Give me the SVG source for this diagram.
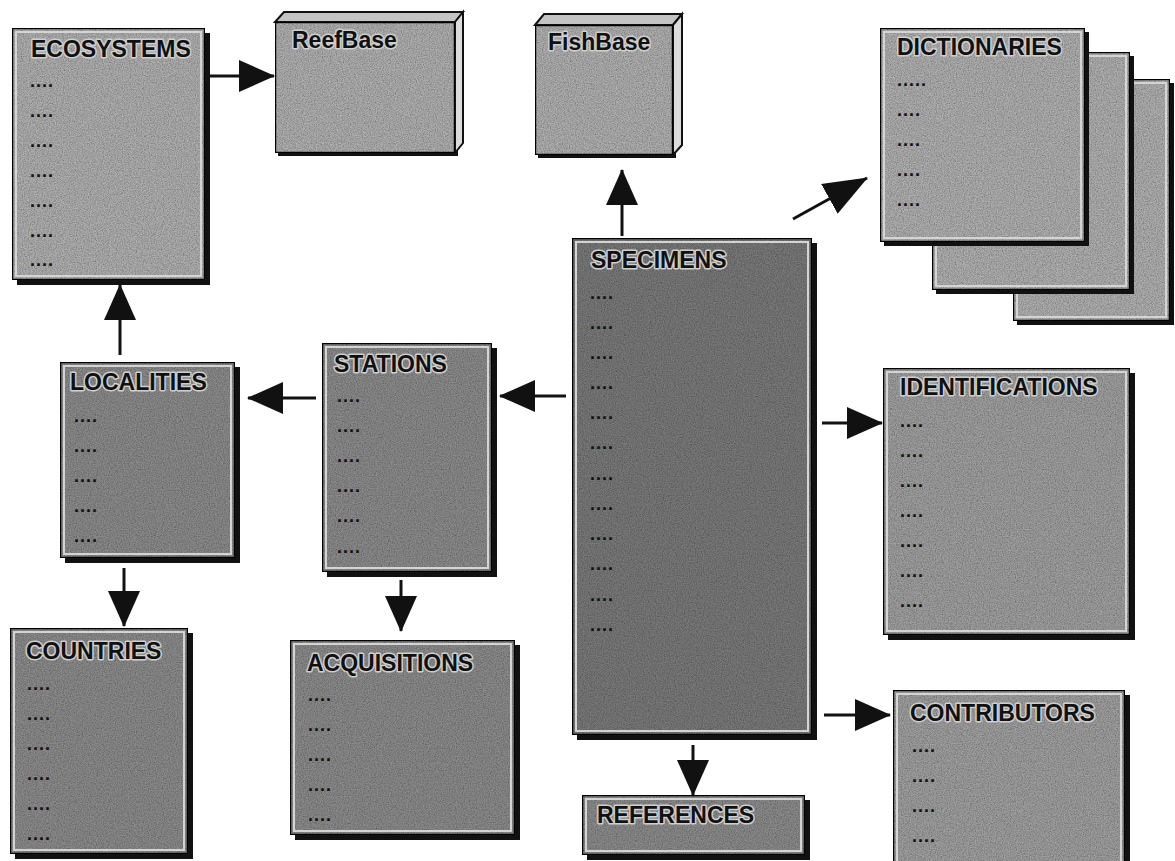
<svg xmlns="http://www.w3.org/2000/svg" width="1175" height="861" viewBox="0 0 1175 861">
<style>
.bg{fill:#ffffff}
.shadow{fill:#111}
.box{stroke:#111;stroke-width:2.5}
.light{fill:#b0b0b0}
.mid{fill:#a0a0a0}
.dark{fill:#8c8c8c}
.darkest{fill:#7a7a7a}
.rim{fill:none;stroke:#d4d4d4;stroke-width:2}
.title{font-family:"Liberation Sans",Arial,sans-serif;font-weight:bold;font-size:23px;fill:#111;stroke:#cfcfcf;stroke-width:3;stroke-linejoin:round;paint-order:stroke}
.dots{font-family:"Liberation Sans",Arial,sans-serif;font-weight:bold;font-size:18px;fill:#111;letter-spacing:1px}
.top{fill:#c4c4c4;stroke:#111;stroke-width:2}
.side{fill:#dcdcdc;stroke:#111;stroke-width:2}
.conn{stroke:#111;stroke-width:3;fill:none}
</style>
<defs>
<filter id="grain" x="0" y="0" width="100%" height="100%">
<feTurbulence type="fractalNoise" baseFrequency="0.85" numOctaves="2" seed="4" result="n"/>
<feColorMatrix in="n" type="matrix" values="0 0 0 0 0  0 0 0 0 0  0 0 0 0 0  1 0 0 0 -0.3" result="d"/>
<feComposite in="d" in2="SourceGraphic" operator="in" result="d2"/>
<feMerge><feMergeNode in="SourceGraphic"/><feMergeNode in="d2"/></feMerge>
</filter>
<marker id="ah" markerUnits="userSpaceOnUse" markerWidth="36" markerHeight="32" refX="35" refY="16" orient="auto">
<path d="M0,0 L36,16 L0,32 Z" fill="#111"/>
</marker>
<marker id="ahl" markerUnits="userSpaceOnUse" markerWidth="44" markerHeight="34" refX="43" refY="17" orient="auto">
<path d="M0,0 L44,17 L0,34 Z" fill="#111"/>
</marker>
</defs>
<rect class="bg" x="0" y="0" width="1175" height="861"/>

<g id="ecosystems">
<rect class="shadow" x="17" y="33" width="193" height="252"/>
<rect class="box light" x="12" y="28" width="193" height="252" filter="url(#grain)"/>
<rect class="rim" x="16" y="32" width="185" height="244"/>
<text class="title" x="31" y="57">ECOSYSTEMS</text>
<text class="dots" x="30" y="87">....</text>
<text class="dots" x="30" y="117">....</text>
<text class="dots" x="30" y="147">....</text>
<text class="dots" x="30" y="177">....</text>
<text class="dots" x="30" y="207">....</text>
<text class="dots" x="30" y="237">....</text>
<text class="dots" x="30" y="266">....</text>
</g>

<g id="reefbase">
<rect class="shadow" x="278" y="25" width="180" height="131"/>
<polygon class="top" points="275,22 284,12 463,12 455,22"/>
<polygon class="side" points="455,22 463,12 463,143 455,153"/>
<rect class="box light" x="275" y="22" width="180" height="131" filter="url(#grain)"/>
<text class="title" x="292" y="48">ReefBase</text>
</g>

<g id="fishbase">
<rect class="shadow" x="538" y="28" width="138" height="130"/>
<polygon class="top" points="535,25 544,14 682,14 673,25"/>
<polygon class="side" points="673,25 682,14 682,145 673,155"/>
<rect class="box light" x="535" y="25" width="138" height="130" filter="url(#grain)"/>
<text class="title" x="548" y="50">FishBase</text>
</g>

<g id="dictionaries">
<rect class="shadow" x="1017" y="83" width="157" height="242"/>
<rect class="box light" x="1013" y="79" width="157" height="242" filter="url(#grain)"/>
<rect class="rim" x="1017" y="83" width="149" height="234"/>
<rect class="shadow" x="936" y="56" width="198" height="238"/>
<rect class="box light" x="932" y="52" width="198" height="238" filter="url(#grain)"/>
<rect class="rim" x="936" y="56" width="190" height="230"/>
<rect class="shadow" x="884" y="32" width="205" height="214"/>
<rect class="box light" x="880" y="28" width="205" height="214" filter="url(#grain)"/>
<rect class="rim" x="884" y="32" width="197" height="206"/>
<text class="title" x="897" y="55">DICTIONARIES</text>
<text class="dots" x="897" y="86">.....</text>
<text class="dots" x="897" y="116">....</text>
<text class="dots" x="897" y="146">....</text>
<text class="dots" x="897" y="176">....</text>
<text class="dots" x="897" y="206">....</text>
</g>

<g id="specimens">
<rect class="shadow" x="577" y="243" width="240" height="497"/>
<rect class="box darkest" x="572" y="238" width="240" height="497" filter="url(#grain)"/>
<rect class="rim" x="576" y="242" width="232" height="489"/>
<text class="title" x="591" y="268">SPECIMENS</text>
<text class="dots" x="590" y="299">....</text>
<text class="dots" x="590" y="329">....</text>
<text class="dots" x="590" y="359">....</text>
<text class="dots" x="590" y="389">....</text>
<text class="dots" x="590" y="419">....</text>
<text class="dots" x="590" y="449">....</text>
<text class="dots" x="590" y="480">....</text>
<text class="dots" x="590" y="510">....</text>
<text class="dots" x="590" y="540">....</text>
<text class="dots" x="590" y="570">....</text>
<text class="dots" x="590" y="601">....</text>
<text class="dots" x="590" y="631">....</text>
</g>

<g id="stations">
<rect class="shadow" x="327" y="348" width="170" height="229"/>
<rect class="box dark" x="322" y="343" width="170" height="229" filter="url(#grain)"/>
<rect class="rim" x="326" y="347" width="162" height="221"/>
<text class="title" x="334" y="372">STATIONS</text>
<text class="dots" x="337" y="402">....</text>
<text class="dots" x="337" y="432">....</text>
<text class="dots" x="337" y="462">....</text>
<text class="dots" x="337" y="492">....</text>
<text class="dots" x="337" y="522">....</text>
<text class="dots" x="337" y="553">....</text>
</g>

<g id="localities">
<rect class="shadow" x="65" y="367" width="175" height="196"/>
<rect class="box dark" x="60" y="362" width="175" height="196" filter="url(#grain)"/>
<rect class="rim" x="64" y="366" width="167" height="188"/>
<text class="title" x="70" y="390">LOCALITIES</text>
<text class="dots" x="74" y="422">....</text>
<text class="dots" x="74" y="452">....</text>
<text class="dots" x="74" y="482">....</text>
<text class="dots" x="74" y="512">....</text>
<text class="dots" x="74" y="542">....</text>
</g>

<g id="countries">
<rect class="shadow" x="15" y="633" width="178" height="226"/>
<rect class="box dark" x="10" y="628" width="178" height="226" filter="url(#grain)"/>
<rect class="rim" x="14" y="632" width="170" height="218"/>
<text class="title" x="26" y="659">COUNTRIES</text>
<text class="dots" x="27" y="690">....</text>
<text class="dots" x="27" y="720">....</text>
<text class="dots" x="27" y="750">....</text>
<text class="dots" x="27" y="780">....</text>
<text class="dots" x="27" y="810">....</text>
<text class="dots" x="27" y="840">....</text>
</g>

<g id="acquisitions">
<rect class="shadow" x="295" y="645" width="225" height="195"/>
<rect class="box dark" x="290" y="640" width="225" height="195" filter="url(#grain)"/>
<rect class="rim" x="294" y="644" width="217" height="187"/>
<text class="title" x="307" y="671">ACQUISITIONS</text>
<text class="dots" x="308" y="701">....</text>
<text class="dots" x="308" y="731">....</text>
<text class="dots" x="308" y="761">....</text>
<text class="dots" x="308" y="791">....</text>
<text class="dots" x="308" y="821">....</text>
</g>

<g id="identifications">
<rect class="shadow" x="888" y="373" width="247" height="267"/>
<rect class="box mid" x="883" y="368" width="247" height="267" filter="url(#grain)"/>
<rect class="rim" x="887" y="372" width="239" height="259"/>
<text class="title" x="900" y="395">IDENTIFICATIONS</text>
<text class="dots" x="900" y="427">....</text>
<text class="dots" x="900" y="457">....</text>
<text class="dots" x="900" y="487">....</text>
<text class="dots" x="900" y="517">....</text>
<text class="dots" x="900" y="547">....</text>
<text class="dots" x="900" y="577">....</text>
<text class="dots" x="900" y="607">....</text>
</g>

<g id="contributors">
<rect class="shadow" x="898" y="695" width="232" height="170"/>
<rect class="box mid" x="893" y="690" width="232" height="175" filter="url(#grain)"/>
<rect class="rim" x="897" y="694" width="224" height="170"/>
<text class="title" x="910" y="721">CONTRIBUTORS</text>
<text class="dots" x="912" y="752">....</text>
<text class="dots" x="912" y="782">....</text>
<text class="dots" x="912" y="812">....</text>
<text class="dots" x="912" y="842">....</text>
</g>

<g id="references">
<rect class="shadow" x="587" y="800" width="223" height="60"/>
<rect class="box dark" x="582" y="795" width="223" height="60" filter="url(#grain)"/>
<rect class="rim" x="586" y="799" width="215" height="52"/>
<text class="title" x="597" y="823">REFERENCES</text>
</g>

<g id="connectors">
<path class="conn" d="M210,76 L274,76" marker-end="url(#ah)"/>
<path class="conn" d="M622,236 L622,170" marker-end="url(#ah)"/>
<path class="conn" d="M793,219 L867,178" marker-end="url(#ahl)"/>
<path class="conn" d="M566,396 L500,396" marker-end="url(#ah)"/>
<path class="conn" d="M316,398 L248,398" marker-end="url(#ah)"/>
<path class="conn" d="M120,355 L120,285" marker-end="url(#ah)"/>
<path class="conn" d="M124,568 L124,626" marker-end="url(#ah)"/>
<path class="conn" d="M401,580 L401,631" marker-end="url(#ah)"/>
<path class="conn" d="M822,423 L882,423" marker-end="url(#ah)"/>
<path class="conn" d="M824,715 L890,715" marker-end="url(#ah)"/>
<path class="conn" d="M693,745 L693,795" marker-end="url(#ah)"/>
</g>
</svg>
